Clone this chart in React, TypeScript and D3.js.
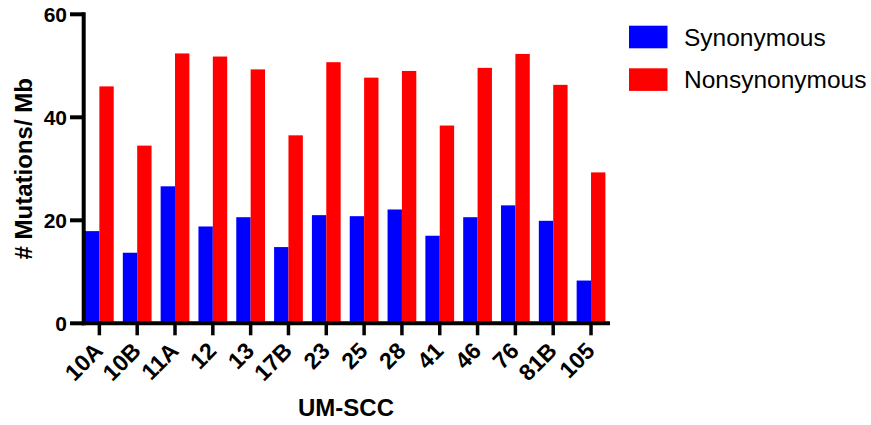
import React from "react";
import * as d3 from "d3";

const categories = ["10A", "10B", "11A", "12", "13", "17B", "23", "25", "28", "41", "46", "76", "81B", "105"];
const synonymous = [17.9, 13.7, 26.6, 18.8, 20.6, 14.8, 21.0, 20.8, 22.1, 17.0, 20.6, 22.9, 19.9, 8.3];
const nonsynonymous = [46.0, 34.5, 52.4, 51.8, 49.3, 36.5, 50.7, 47.7, 49.0, 38.4, 49.6, 52.3, 46.3, 29.3];
const yTicks = [0, 20, 40, 60];
const seriesNames = ["Synonymous", "Nonsynonymous"];
const seriesColors = ["#0000FF", "#FF0000"];

const W = 871;
const H = 425;
const FONT = "Arial, 'Liberation Sans', Helvetica, sans-serif";

export default function App() {
  const x = d3.scaleBand<string>().domain(categories).range([85, 605.4]).paddingInner(0.24).paddingOuter(0).align(0);
  const xSub = d3.scaleBand<number>().domain([0, 1]).range([0, x.bandwidth()]).padding(0);
  const y = d3.scaleLinear().domain([0, 60]).range([323.3, 14.3]);
  const series = [synonymous, nonsynonymous];
  const axisX = 83.7;

  return (
    <svg width={W} height={H} style={{ position: "absolute", left: 0, top: 0, background: "#fff" }} fontFamily={FONT}>
      {/* bars */}
      {categories.map((c, i) => (
        <g key={c}>
          {series.map((s, k) => (
            <rect
              key={k}
              x={(x(c) as number) + (xSub(k) as number)}
              y={y(s[i])}
              width={xSub.bandwidth()}
              height={y(0) - y(s[i])}
              fill={seriesColors[k]}
            />
          ))}
        </g>
      ))}
      {/* y axis */}
      <line x1={axisX} x2={axisX} y1={y(60) - 2} y2={y(0) + 2} stroke="#000" strokeWidth={4} />
      {yTicks.map((t) => (
        <g key={t}>
          <line x1={70} x2={axisX} y1={y(t)} y2={y(t)} stroke="#000" strokeWidth={4} />
          <text x={67} y={y(t)} dy="0.36em" textAnchor="end" fontSize={21} fontWeight="bold" fill="#000">
            {t}
          </text>
        </g>
      ))}
      {/* x axis */}
      <line x1={axisX - 2} x2={610} y1={y(0)} y2={y(0)} stroke="#000" strokeWidth={4} />
      {categories.map((c) => {
        const cx = (x(c) as number) + x.bandwidth() / 2;
        return (
          <g key={c}>
            <line x1={cx} x2={cx} y1={y(0)} y2={y(0) + 12} stroke="#000" strokeWidth={3.5} />
            <text
              transform={`translate(${cx + 5},${y(0) + 29}) rotate(-45)`}
              textAnchor="end"
              fontSize={23}
              fontWeight="bold"
              fill="#000"
            >
              {c}
            </text>
          </g>
        );
      })}
      {/* axis titles */}
      <text x={346} y={416} textAnchor="middle" fontSize={24} fontWeight="bold" fill="#000">
        UM-SCC
      </text>
      <text transform={`translate(32,${(y(0) + y(60)) / 2}) rotate(-90)`} textAnchor="middle" fontSize={24} fontWeight="bold" fill="#000">
        # Mutations/ Mb
      </text>
      {/* legend */}
      {seriesNames.map((n, k) => (
        <g key={n} transform={`translate(629,${25.7 + k * 42.6})`}>
          <rect x={0} y={0} width={38.5} height={22.6} fill={seriesColors[k]} />
          <text x={55} y={20} fontSize={24.5} fill="#000">
            {n}
          </text>
        </g>
      ))}
    </svg>
  );
}
